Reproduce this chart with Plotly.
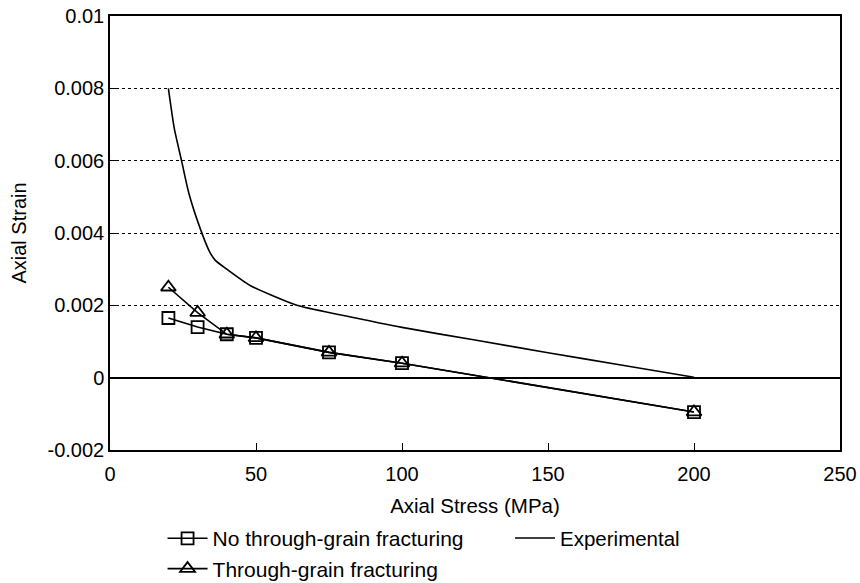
import plotly.graph_objects as go

stress_model = [20, 30, 40, 50, 75, 100, 200]
strain_no_tg = [0.00165, 0.0014, 0.0012, 0.0011, 0.0007, 0.0004, -0.00095]
strain_tg = [0.0025, 0.0018, 0.0012, 0.0011, 0.0007, 0.0004, -0.00095]

stress_exp = [20, 22, 24.5, 27, 31, 34, 36, 40, 48, 64, 80, 100, 125, 150, 175, 200]
strain_exp = [0.008, 0.0069, 0.006, 0.0051, 0.0041, 0.0035, 0.00325, 0.003, 0.00255,
              0.002, 0.00172, 0.00139, 0.00104, 0.00069, 0.00035, 0.00001]

x_ticks = [0, 50, 100, 150, 200, 250]
y_ticks = [-0.002, 0, 0.002, 0.004, 0.006, 0.008, 0.01]
y_tick_text = ["-0.002", "0", "0.002", "0.004", "0.006", "0.008", "0.01"]

font = "Liberation Sans, Arial, sans-serif"

fig = go.Figure()
fig.add_trace(go.Scatter(
    x=stress_model, y=strain_no_tg, mode="lines+markers",
    name="No through-grain fracturing", legend="legend", legendgroup="a",
    line=dict(color="black", width=1.6),
    marker=dict(symbol="square-open", size=12, color="black", line=dict(width=1.8)),
))
fig.add_trace(go.Scatter(
    x=stress_exp, y=strain_exp, mode="lines", name="Experimental",
    legend="legend2",
    line=dict(color="black", width=1.6, shape="spline", smoothing=0.6),
))
fig.add_trace(go.Scatter(
    x=stress_model, y=strain_tg, mode="lines+markers",
    name="Through-grain fracturing", legend="legend", legendgroup="b",
    line=dict(color="black", width=1.6),
    marker=dict(symbol="triangle-up-open", size=13, color="black", line=dict(width=1.8)),
))

fig.update_layout(
    width=860, height=583,
    margin=dict(l=110, r=20, t=16, b=133, autoexpand=False),
    paper_bgcolor="white", plot_bgcolor="white",
    font=dict(family=font, size=20, color="black"),
    showlegend=True,
    legend=dict(orientation="v", x=0.072, y=-0.157, xanchor="left", yanchor="top",
                font=dict(size=21), tracegroupgap=0, itemwidth=40,
                bgcolor="rgba(0,0,0,0)"),
    legend2=dict(orientation="v", x=0.548, y=-0.157, xanchor="left", yanchor="top",
                 font=dict(size=20.5), itemwidth=40, bgcolor="rgba(0,0,0,0)"),
    xaxis=dict(range=[0, 250], tickvals=x_ticks, showgrid=False, zeroline=False,
               showline=True, linecolor="black", linewidth=1.5, mirror=True,
               ticks="inside", ticklen=7, tickcolor="black",
               tickfont=dict(size=20), ticklabelstandoff=5,
               title=dict(text="Axial Stress (MPa)", font=dict(size=20.5), standoff=15)),
    yaxis=dict(range=[-0.002, 0.01], tickvals=y_ticks, ticktext=y_tick_text,
               showgrid=True, gridcolor="black", gridwidth=1, griddash="dot",
               zeroline=True, zerolinecolor="black", zerolinewidth=1.5,
               showline=True, linecolor="black", linewidth=1.5, mirror=True,
               ticks="inside", ticklen=7, tickcolor="black",
               tickfont=dict(size=20),
               title=dict(text="Axial Strain", font=dict(size=20), standoff=16)),
)

fig.write_html("out.html")
